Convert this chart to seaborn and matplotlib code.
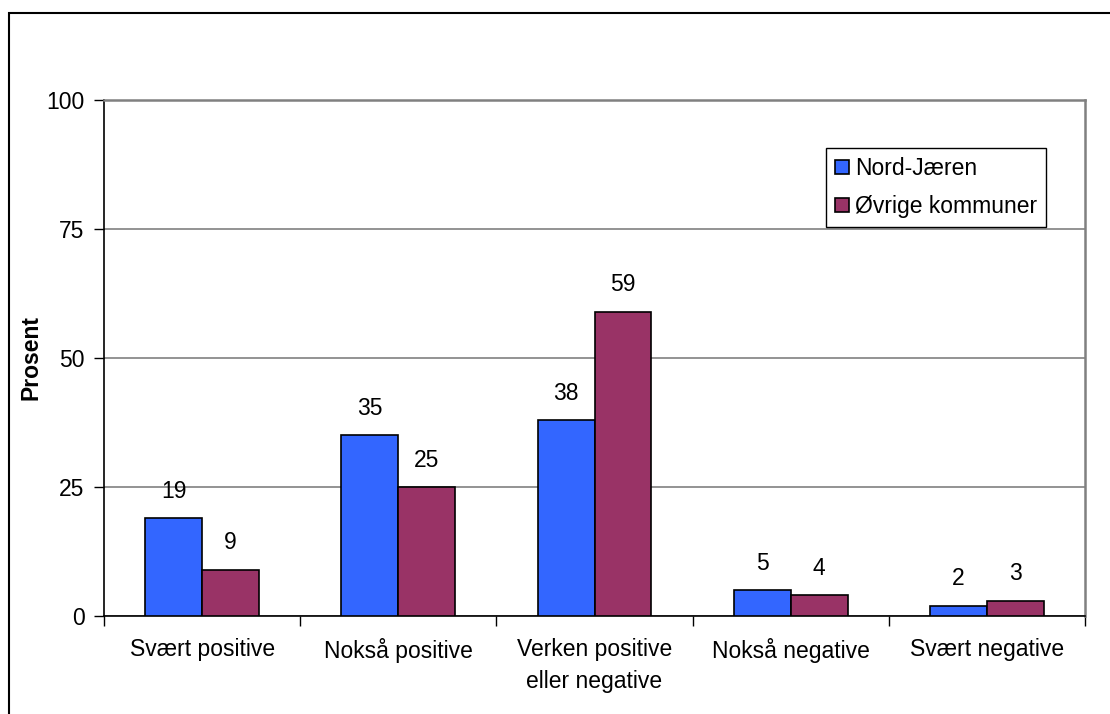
import numpy as np
import pandas as pd
import matplotlib.pyplot as plt
import seaborn as sns
from matplotlib.patches import Rectangle

categories = ["Svært positive", "Nokså positive", "Verken positive\neller negative",
              "Nokså negative", "Svært negative"]
nord = [19, 35, 38, 5, 2]
ovrige = [9, 25, 59, 4, 3]
series = ["Nord-Jæren", "Øvrige kommuner"]

df = pd.DataFrame({
    "kategori": categories * 2,
    "gruppe": [series[0]] * 5 + [series[1]] * 5,
    "prosent": nord + ovrige,
})

sns.set_style("white")
plt.rcParams['font.family'] = ['Liberation Sans', 'DejaVu Sans']
plt.rcParams['text.color'] = 'black'
plt.rcParams['axes.labelcolor'] = 'black'
plt.rcParams['xtick.color'] = 'black'
plt.rcParams['ytick.color'] = 'black'
fs = 16.5

fig = plt.figure(figsize=(11.1, 7.14), dpi=100)
ax = fig.add_axes([104 / 1110, 1 - 616 / 714, (1085 - 104) / 1110, (616 - 100) / 714])

# outer frame of the chart area
fig.patches.append(Rectangle((9 / 1110, -0.1), 1.2, 1 - 13 / 714 + 0.1,
                             transform=fig.transFigure, fill=False,
                             edgecolor="black", linewidth=1.5))

sns.barplot(data=df, x="kategori", y="prosent", hue="gruppe", order=categories,
            palette=["#3366FF", "#993366"], width=0.58, gap=0,
            edgecolor="black", linewidth=1.2, saturation=1, ax=ax, zorder=3)

for cont in ax.containers:
    ax.bar_label(cont, padding=11, fontsize=fs)

ax.set_ylim(0, 100)
ax.set_xlim(-0.5, 4.5)
ax.set_yticks([0, 25, 50, 75, 100])
ax.yaxis.grid(True, color="#808080", linewidth=1.2)
ax.set_axisbelow(True)
ax.tick_params(axis="y", which="major", direction="out", length=7, width=1,
               color="black", labelsize=fs, left=True, pad=7)
ax.tick_params(axis="x", which="major", length=0, labelsize=fs, pad=16)
for lab in ax.get_xticklabels():
    lab.set_linespacing(1.5)
ax.set_xticks(np.arange(-0.5, 5, 1), minor=True)
ax.tick_params(axis="x", which="minor", direction="out", length=7, width=1,
               color="black", bottom=True)
ax.set_xlabel("")
ax.set_ylabel("Prosent", fontsize=fs, fontweight="bold", labelpad=3)

for side in ["left", "bottom"]:
    ax.spines[side].set_color("black")
    ax.spines[side].set_linewidth(1.2)
for side in ["top", "right"]:
    ax.spines[side].set_visible(True)
    ax.spines[side].set_color("#808080")
    ax.spines[side].set_linewidth(1.8)

leg = ax.legend(loc="upper left", bbox_to_anchor=(0.736, 0.907), fontsize=fs,
                frameon=True, fancybox=False, edgecolor="black", framealpha=1,
                handlelength=0.6, handleheight=0.6, handletextpad=0.25,
                labelspacing=0.65, borderpad=0.4, borderaxespad=0, title=None)
leg.get_frame().set_linewidth(1)

fig.savefig("out.png", dpi=100)
